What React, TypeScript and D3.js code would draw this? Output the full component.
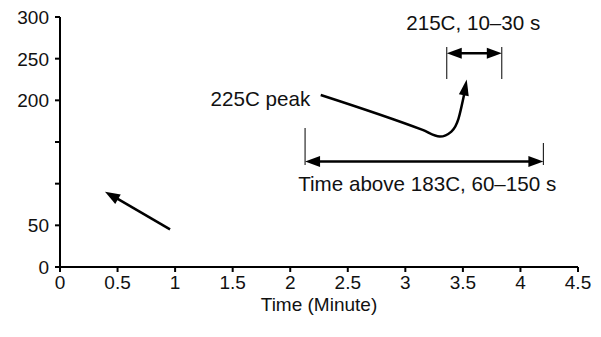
import React from "react";
import * as d3 from "d3";

const W = 601;
const H = 337;

const xTicks = [0, 0.5, 1, 1.5, 2, 2.5, 3, 3.5, 4, 4.5];
const xTickLabels = ["0", "0.5", "1", "1.5", "2", "2.5", "3", "3.5", "4", "4.5"];
const yTicks = [0, 50, 100, 150, 200, 250, 300];
const yTickLabels = ["0", "50", "", "", "200", "250", "300"];
const xTitle = "Time (Minute)";

// annotation geometry in data units (minutes, degrees C)
const smallArrow: [number, number][] = [[0.956, 45.2], [0.391, 90.4]];
const peakCurve: [number, number][] = [
  [2.265, 206.4],
  [3.15, 164.5],
  [3.3, 156.5],
  [3.4, 162.5],
  [3.462, 178],
  [3.5, 200],
  [3.533, 225],
];
const peakLabel = { text: "225C peak", x: 1.308, y: 204 };
const bracket215 = { x1: 3.36, x2: 3.838, yTop: 264, yBottom: 225.6, yArrow: 256.4 };
const label215 = { text: "215C, 10–30 s", x: 3.59, y: 284 };
const bracket183 = { x1: 2.129, x2: 4.199, yTop1: 166.8, yTop2: 148.8, yBottom: 122.4, yArrow: 126.6 };
const label183 = { text: "Time above 183C, 60–150 s", x: 3.19, y: 91 };

const FONT = "'Liberation Sans', Arial, Helvetica, sans-serif";
const FS = 19;
const FA = 20.6;

function head(tip: [number, number], from: [number, number], len = 15, half = 5.5) {
  const dx = tip[0] - from[0];
  const dy = tip[1] - from[1];
  const l = Math.hypot(dx, dy) || 1;
  const ux = dx / l, uy = dy / l;
  const bx = tip[0] - ux * len, by = tip[1] - uy * len;
  const px = -uy * half, py = ux * half;
  return `M${tip[0]},${tip[1]}L${bx + px},${by + py}L${bx - px},${by - py}Z`;
}

export default function App() {
  const x = d3.scaleLinear().domain([0, 4.5]).range([60, 578]);
  const y = d3.scaleLinear().domain([0, 300]).range([267, 17]);

  const pc = peakCurve.map(([a, b]) => [x(a), y(b)] as [number, number]);
  const curveLine = d3.line().curve(d3.curveMonotoneX)(pc.slice(0, pc.length - 1).concat([[pc[pc.length - 1][0] - 1.2, pc[pc.length - 1][1] + 8]]));
  const curveTip = pc[pc.length - 1];
  const curveFrom = pc[pc.length - 2];

  const sa0: [number, number] = [x(smallArrow[0][0]), y(smallArrow[0][1])];
  const sa1: [number, number] = [x(smallArrow[1][0]), y(smallArrow[1][1])];

  const b1y = y(bracket215.yArrow);
  const b1l = x(bracket215.x1), b1r = x(bracket215.x2);
  const b2y = y(bracket183.yArrow);
  const b2l = x(bracket183.x1), b2r = x(bracket183.x2);

  return (
    <svg width={W} height={H} style={{ position: "absolute", left: 0, top: 0, background: "#fff" }} fontFamily={FONT}>
      <rect width={W} height={H} fill="#fff" />
      {/* axes */}
      <line x1={x(0)} x2={x(4.5)} y1={y(0)} y2={y(0)} stroke="#000" strokeWidth={2} />
      <line x1={x(0)} x2={x(0)} y1={y(0)} y2={y(300)} stroke="#000" strokeWidth={2} />
      {xTicks.map((t, i) => (
        <g key={"x" + i}>
          <line x1={x(t)} x2={x(t)} y1={y(0)} y2={y(0) + 5} stroke="#000" strokeWidth={2} />
          <text x={x(t)} y={y(0) + 22} textAnchor="middle" fontSize={FS} fill="#111">{xTickLabels[i]}</text>
        </g>
      ))}
      {yTicks.map((t, i) => (
        <g key={"y" + i}>
          <line x1={x(0) - 5} x2={x(0)} y1={y(t)} y2={y(t)} stroke="#000" strokeWidth={2} />
          {yTickLabels[i] && (
            <text x={x(0) - 11} y={y(t) + 7} textAnchor="end" fontSize={FS} fill="#111">{yTickLabels[i]}</text>
          )}
        </g>
      ))}
      <text x={(x(0) + x(4.5)) / 2} y={311} textAnchor="middle" fontSize={FS} fill="#111">{xTitle}</text>

      {/* small arrow */}
      <line x1={sa0[0]} y1={sa0[1]} x2={sa1[0] + 8} y2={sa1[1] + 4.4} stroke="#000" strokeWidth={2.5} />
      <path d={head(sa1, sa0)} fill="#000" />

      {/* peak curve */}
      <path d={curveLine || ""} fill="none" stroke="#000" strokeWidth={2.5} />
      <path d={head(curveTip, curveFrom, 16, 5)} fill="#000" />
      <text x={x(peakLabel.x)} y={y(peakLabel.y) + 9} fontSize={FA} fill="#111">{peakLabel.text}</text>

      {/* 215 bracket */}
      <line x1={b1l} x2={b1l} y1={y(bracket215.yTop)} y2={y(bracket215.yBottom)} stroke="#000" strokeWidth={1} />
      <line x1={b1r} x2={b1r} y1={y(bracket215.yTop)} y2={y(bracket215.yBottom)} stroke="#000" strokeWidth={1} />
      <line x1={b1l + 8} x2={b1r - 8} y1={b1y} y2={b1y} stroke="#000" strokeWidth={2.5} />
      <path d={head([b1l, b1y], [b1r, b1y])} fill="#000" />
      <path d={head([b1r, b1y], [b1l, b1y])} fill="#000" />
      <text x={x(label215.x)} y={y(label215.y)} textAnchor="middle" fontSize={FA} fill="#111">{label215.text}</text>

      {/* 183 bracket */}
      <line x1={b2l} x2={b2l} y1={y(bracket183.yTop1)} y2={y(bracket183.yBottom)} stroke="#000" strokeWidth={1} />
      <line x1={b2r} x2={b2r} y1={y(bracket183.yTop2)} y2={y(bracket183.yBottom)} stroke="#000" strokeWidth={1} />
      <line x1={b2l + 8} x2={b2r - 8} y1={b2y} y2={b2y} stroke="#000" strokeWidth={2.5} />
      <path d={head([b2l, b2y], [b2r, b2y])} fill="#000" />
      <path d={head([b2r, b2y], [b2l, b2y])} fill="#000" />
      <text x={x(label183.x)} y={y(label183.y)} textAnchor="middle" fontSize={FA} fill="#111">{label183.text}</text>
    </svg>
  );
}
